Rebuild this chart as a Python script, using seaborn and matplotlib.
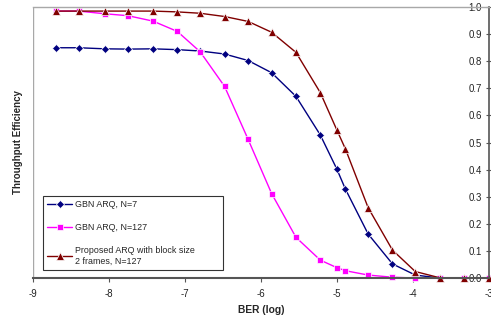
import numpy as np
import pandas as pd
import matplotlib
matplotlib.use("Agg")
import matplotlib.pyplot as plt
import seaborn as sns

# valores
ber_log = [-8.7, -8.4, -8.05, -7.75, -7.42, -7.1, -6.8, -6.48, -6.17, -5.86,
           -5.54, -5.22, -5.0, -4.89, -4.59, -4.27, -3.97, -3.65, -3.33, -3.0]
gbn_7 = [0.849, 0.849, 0.845, 0.844, 0.845, 0.842, 0.837, 0.826, 0.802, 0.757,
         0.670, 0.528, 0.401, 0.329, 0.163, 0.053, 0.012, 0.001, 0.0, 0.0]
gbn_127 = [0.984, 0.984, 0.974, 0.967, 0.947, 0.909, 0.834, 0.707, 0.512, 0.312,
           0.151, 0.067, 0.039, 0.028, 0.012, 0.004, 0.001, 0.0, 0.0, 0.0]
proposto = [0.984, 0.984, 0.984, 0.984, 0.984, 0.981, 0.976, 0.964, 0.946, 0.906,
            0.832, 0.684, 0.545, 0.477, 0.260, 0.104, 0.025, 0.002, 0.0, 0.0]

nomes = ["GBN ARQ, N=7", "GBN ARQ, N=127",
         "Proposed ARQ with block size\n2 frames, N=127"]
x_ticks = [-9, -8, -7, -6, -5, -4, -3]
y_ticks = [0.0, 0.1, 0.2, 0.3, 0.4, 0.5, 0.6, 0.7, 0.8, 0.9, 1.0]

df = pd.DataFrame({
    "ber": ber_log * 3,
    "eff": gbn_7 + gbn_127 + proposto,
    "serie": [nomes[0]] * len(ber_log) + [nomes[1]] * len(ber_log) + [nomes[2]] * len(ber_log),
})

sns.set_theme(style="white")
plt.rcParams["font.family"] = ["Liberation Sans", "DejaVu Sans"]
plt.rcParams["axes.unicode_minus"] = False

fig = plt.figure(figsize=(4.91, 3.21), dpi=100)
ax = fig.add_axes([0.0672, 0.133, 0.9287, 0.846])

cores = {nomes[0]: "#000080", nomes[1]: "#FF00FF", nomes[2]: "#800000"}
marcadores = {nomes[0]: "D", nomes[1]: "s", nomes[2]: "^"}
tamanhos = {"D": 4.3, "s": 5.0, "^": 5.8}

sns.lineplot(data=df, x="ber", y="eff", hue="serie", style="serie",
             palette=cores, markers=marcadores, dashes=False, sort=False,
             linewidth=1.0, markersize=5, markeredgewidth=0.5,
             ax=ax, clip_on=False)

# tamanho de marcador diferente para cada serie
for linha in ax.lines:
    m = linha.get_marker()
    if m in tamanhos:
        linha.set_markersize(tamanhos[m])

ax.set_xlim(-9, -3)
ax.set_ylim(0, 1.0)
ax.set_xticks(x_ticks)
ax.set_yticks(y_ticks)
ax.set_xticklabels([str(t) for t in x_ticks])
ax.set_yticklabels([f"{t:.1f}" for t in y_ticks])

# eixo Y desenhado em x=-3, moldura cinza em cima e a esquerda
ax.spines["left"].set_position(("data", -3))
ax.spines["left"].set_color("#555555")
ax.spines["left"].set_linewidth(1.2)
ax.spines["right"].set_visible(False)
ax.spines["top"].set_color("#A8A8A8")
ax.spines["top"].set_linewidth(1.0)
ax.spines["bottom"].set_color("#555555")
ax.spines["bottom"].set_linewidth(1.5)
ax.axvline(-9, color="#A8A8A8", lw=1.0, zorder=0)

ax.tick_params(axis="y", direction="inout", length=4, width=0.8,
               color="#555555", labelsize=6.9, labelcolor="#222222", pad=3, left=True)
ax.tick_params(axis="x", direction="out", length=3, width=0.8,
               color="#555555", labelsize=6.9, labelcolor="#222222", pad=5, bottom=True)

ax.set_xlabel("BER (log)", fontsize=7.4, fontweight="bold")
ax.set_ylabel("Throughput Efficiency", fontsize=7.0, fontweight="bold")
ax.xaxis.set_label_coords(0.5, -0.1)
ax.yaxis.set_label_coords(-0.023, 0.5)

leg = ax.legend(loc="lower left", bbox_to_anchor=(0.022, 0.031, 0.395, 0.28),
                mode="expand", fontsize=6.4, frameon=True, fancybox=False,
                handlelength=2.8, handletextpad=0.3, borderpad=0.5,
                labelspacing=1.55, borderaxespad=0)
leg.get_frame().set_edgecolor("black")
leg.get_frame().set_linewidth(0.8)
for h in leg.legend_handles:
    m = h.get_marker()
    if m in tamanhos:
        h.set_markersize(tamanhos[m])

plt.savefig("out.png", dpi=100)
